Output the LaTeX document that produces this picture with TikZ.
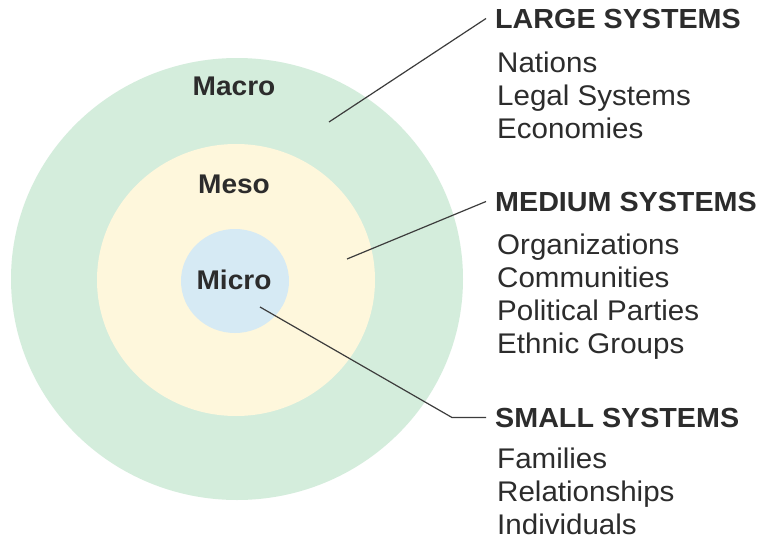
\documentclass[tikz,border=0pt]{standalone}
\usepackage{fontspec}
\setmainfont[FakeStretch=1.04]{Liberation Sans}
\definecolor{macrocol}{HTML}{D4EDDC}
\definecolor{mesocol}{HTML}{FEF7DC}
\definecolor{microcol}{HTML}{D6EAF4}
\definecolor{inkcol}{HTML}{2C2C2C}
\definecolor{linecol}{HTML}{3C3C3C}
\tikzset{
  ringlabel/.style={inner sep=0pt, anchor=base, text=inkcol, font=\fontsize{27}{34}\selectfont\bfseries},
  heading/.style={inner xsep=9pt, inner ysep=0pt, anchor=base west, text=inkcol, font=\fontsize{27.6}{34}\selectfont\bfseries},
  item/.style={inner sep=0pt, anchor=base west, text=inkcol, font=\fontsize{28.4}{34}\selectfont},
  leader/.style={draw=linecol, line width=1.2pt}
}
\begin{document}
\begin{tikzpicture}[x=1pt, y=-1pt]
\fill[white] (0,0) rectangle (766,541);
\useasboundingbox (0,0) rectangle (766,541);

% rings
\fill[macrocol] (237,279) ellipse [x radius=226, y radius=221];
\fill[mesocol] (236,280) ellipse [x radius=139, y radius=136];
\fill[microcol] (235,281) ellipse [x radius=54, y radius=52];

% ring labels
\node[ringlabel] (macro) at (234,95) {Macro};
\node[ringlabel] (meso) at (234,193) {Meso};
\node[ringlabel] (micro) at (234,289) {Micro};

% large systems
\node[heading] (large) at (486,28) {LARGE SYSTEMS};
\node[item] (nations) at (497,72) {Nations};
\node[item] (legal) at (497,105) {Legal Systems};
\node[item] (econ) at (497,138) {Economies};

% medium systems
\node[heading] (medium) at (486,211) {MEDIUM SYSTEMS};
\node[item] (org) at (497,254) {Organizations};
\node[item] (comm) at (497,287) {Communities};
\node[item] (pol) at (497,320) {Political Parties};
\node[item] (eth) at (497,353) {Ethnic Groups};

% small systems
\node[heading] (small) at (486,427) {SMALL SYSTEMS};
\node[item] (fam) at (497,468) {Families};
\node[item] (rel) at (497,501) {Relationships};
\node[item] (ind) at (497,534) {Individuals};

% leader lines
\coordinate (p1) at (329,122);
\coordinate (p2) at (347,259);
\coordinate (p3) at (260,307);
\coordinate (k3) at (452,0);
\draw[leader] (p1) -- (large.west);
\draw[leader] (p2) -- (medium.west);
\draw[leader] (p3) -- (k3 |- small.west) -- (small.west);
\end{tikzpicture}
\end{document}
